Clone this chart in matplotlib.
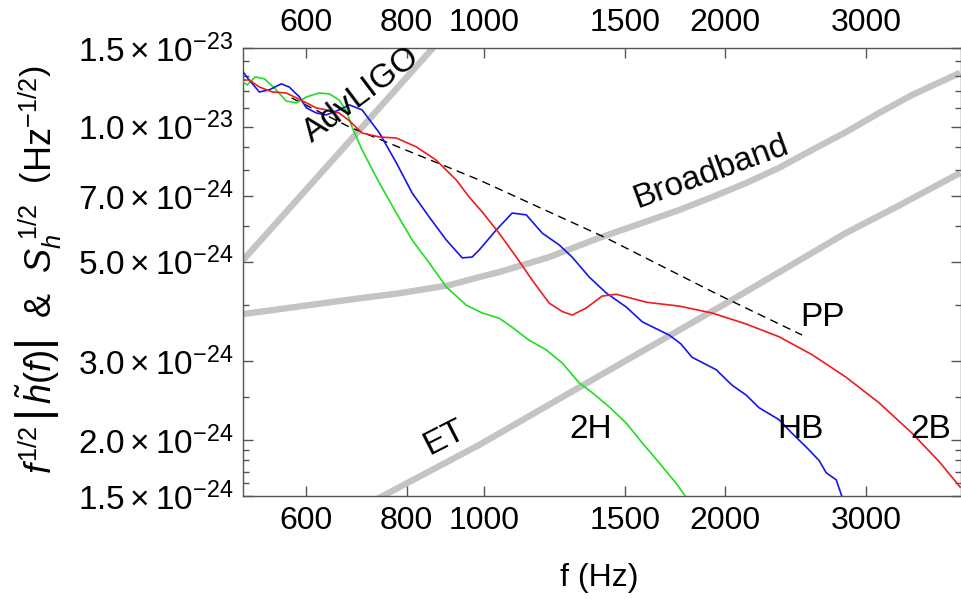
import matplotlib
matplotlib.use("Agg")
import matplotlib.pyplot as plt
from matplotlib.ticker import FixedLocator, FixedFormatter, NullLocator, NullFormatter

plt.rcParams["font.family"] = ["Liberation Sans", "DejaVu Sans"]
plt.rcParams["mathtext.fontset"] = "custom"
plt.rcParams["mathtext.rm"] = "Liberation Sans"
plt.rcParams["mathtext.it"] = "Liberation Sans:italic"
plt.rcParams["mathtext.bf"] = "Liberation Sans:bold"

SCALE = 1e-24  # amplitudes below are in units of 1e-24

# waveform spectra f^1/2 |h(f)|
f_2b = [500, 509, 524, 544, 566, 583, 600, 617, 635, 659, 679, 704, 740, 777, 823, 871, 923, 958,
        995, 1044, 1097, 1148, 1206, 1252, 1288, 1341, 1404, 1462, 1594, 1752, 1927, 2124, 2335,
        2568, 2832, 3114, 3424, 3700, 3930]
a_2b = [12.72, 12.72, 12.27, 11.96, 11.90, 11.60, 11.31, 11.02, 10.91, 10.74, 10.31, 9.69, 9.49,
        9.44, 9.02, 8.43, 7.61, 6.97, 6.45, 5.79, 5.12, 4.55, 4.04, 3.87, 3.80, 3.94, 4.19, 4.23,
        4.06, 3.98, 3.84, 3.63, 3.40, 3.10, 2.76, 2.42, 2.07, 1.79, 1.57]

f_hb = [500, 509, 524, 539, 558, 571, 588, 600, 617, 635, 659, 679, 704, 740, 777, 813, 854, 897,
        939, 966, 986, 1035, 1084, 1129, 1182, 1241, 1288, 1353, 1420, 1505, 1576, 1702, 1760,
        1818, 1949, 2040, 2124, 2205, 2335, 2424, 2524, 2620, 2674, 2752, 2800]
a_hb = [13.26, 12.72, 11.96, 12.09, 12.47, 12.27, 11.66, 11.02, 10.74, 10.63, 10.91, 11.19, 10.91,
        9.69, 8.31, 7.12, 6.29, 5.59, 5.10, 5.12, 5.31, 5.88, 6.42, 6.36, 5.79, 5.45, 5.12, 4.62,
        4.26, 3.96, 3.67, 3.43, 3.28, 3.06, 2.87, 2.65, 2.52, 2.36, 2.22, 2.07, 1.93, 1.80, 1.69,
        1.63, 1.49]

f_2h = [500, 506, 518, 532, 550, 566, 583, 600, 622, 641, 659, 673, 684, 704, 740, 777, 813, 854,
        897, 950, 995, 1044, 1084, 1138, 1195, 1252, 1315, 1365, 1433, 1505, 1576, 1654, 1737, 1788]
a_2h = [12.59, 12.40, 12.93, 12.79, 12.09, 11.42, 11.31, 11.66, 11.90, 11.84, 11.48, 10.85, 9.99,
        8.88, 7.49, 6.42, 5.59, 4.97, 4.39, 4.00, 3.84, 3.74, 3.57, 3.34, 3.18, 2.97, 2.68, 2.55,
        2.37, 2.18, 1.97, 1.78, 1.60, 1.49]

f_pp = [575, 679, 986, 1420, 1966, 2495]
a_pp = [11.6, 9.99, 7.61, 5.65, 4.21, 3.43]

# detector noise S_h^1/2
f_adv = [500, 900]
a_adv = [5.04, 16.3]

f_bb = [500, 704, 783, 904, 986, 1044, 1206, 1392, 1752, 1927, 2124, 2335, 2568, 2832, 3114,
        3424, 3930]
a_bb = [3.82, 4.15, 4.25, 4.43, 4.62, 4.74, 5.12, 5.65, 6.52, 6.97, 7.49, 8.10, 8.88, 9.74,
        10.74, 11.78, 13.2]

f_et = [700, 986, 1392, 2040, 2832, 3269, 3930]
a_et = [1.41, 1.95, 2.78, 4.11, 5.80, 6.62, 7.89]

xtick_values = [600, 800, 1000, 1500, 2000, 3000]
ytick_values = [1.5e-24, 2e-24, 3e-24, 5e-24, 7e-24, 1e-23, 1.5e-23]
ytick_labels = [r"$1.5\times10^{-24}$", r"$2.0\times10^{-24}$", r"$3.0\times10^{-24}$",
                r"$5.0\times10^{-24}$", r"$7.0\times10^{-24}$", r"$1.0\times10^{-23}$",
                r"$1.5\times10^{-23}$"]
yminor_values = [1.6e-24, 1.7e-24, 1.8e-24, 1.9e-24, 2.5e-24, 4e-24, 6e-24, 8e-24, 9e-24,
                 1.1e-23, 1.2e-23, 1.3e-23, 1.4e-23]


def scaled(values):
    return [v * SCALE for v in values]


fig = plt.figure(figsize=(9.61, 5.99), dpi=100)
ax = fig.add_axes([0.2529, 0.172, 0.7471, 0.748])
ax.set_xscale("log")
ax.set_yscale("log")

noise_style = dict(color="#c4c4c4", linewidth=4.6, solid_capstyle="butt", zorder=1)
ax.plot(f_adv, scaled(a_adv), **noise_style)
ax.plot(f_bb, scaled(a_bb), **noise_style)
ax.plot(f_et, scaled(a_et), **noise_style)

ax.plot(f_pp, scaled(a_pp), color="black", linewidth=1.0, dashes=(6, 4), zorder=2)
ax.plot(f_2h, scaled(a_2h), color="#22dd22", linewidth=1.2, zorder=3)
ax.plot(f_hb, scaled(a_hb), color="#1515ee", linewidth=1.2, zorder=3)
ax.plot(f_2b, scaled(a_2b), color="#ee1c1c", linewidth=1.2, zorder=3)

ax.set_xlim(500, 3940)
ax.set_ylim(1.5e-24, 1.5e-23)

ax.xaxis.set_major_locator(FixedLocator(xtick_values))
ax.xaxis.set_major_formatter(FixedFormatter([str(v) for v in xtick_values]))
ax.xaxis.set_minor_locator(NullLocator())
ax.yaxis.set_major_locator(FixedLocator(ytick_values))
ax.yaxis.set_major_formatter(FixedFormatter(ytick_labels))
ax.yaxis.set_minor_locator(FixedLocator(yminor_values))
ax.yaxis.set_minor_formatter(NullFormatter())

ax.tick_params(which="both", direction="in", top=True, right=True, color="#555555", width=1.0)
ax.tick_params(which="major", length=7)
ax.tick_params(which="minor", length=4)
ax.tick_params(axis="x", labeltop=True, labelsize=23, pad=7)
ax.tick_params(axis="y", labelsize=24, pad=7)
for spine in ax.spines.values():
    spine.set_color("#555555")
    spine.set_linewidth(1.0)

label_style = dict(fontsize=24, ha="center", va="center", zorder=5)
ax.text(703, 11.78e-24, "AdvLIGO", rotation=37, **label_style)
ax.text(1920, 7.93e-24, "Broadband", rotation=20, **label_style)
ax.text(892, 2.02e-24, "ET", rotation=27, **label_style)
ax.text(2643, 3.75e-24, "PP", **label_style)
ax.text(1357, 2.11e-24, "2H", **label_style)
ax.text(2483, 2.11e-24, "HB", **label_style)
ax.text(3616, 2.11e-24, "2B", **label_style)

fig.text(0.624, 1 - 578 / 599, "f (Hz)", fontsize=23, ha="center", va="center")
fig.text(0.040, 0.55,
         r"$f^{1/2}\,\left|\,\tilde{h}(f)\right|$  &  $S_h^{\ 1/2}\ \ \left(\mathrm{Hz}^{-1/2}\right)$",
         fontsize=26, rotation=90, ha="center", va="center")

fig.savefig("out.png", dpi=100)
